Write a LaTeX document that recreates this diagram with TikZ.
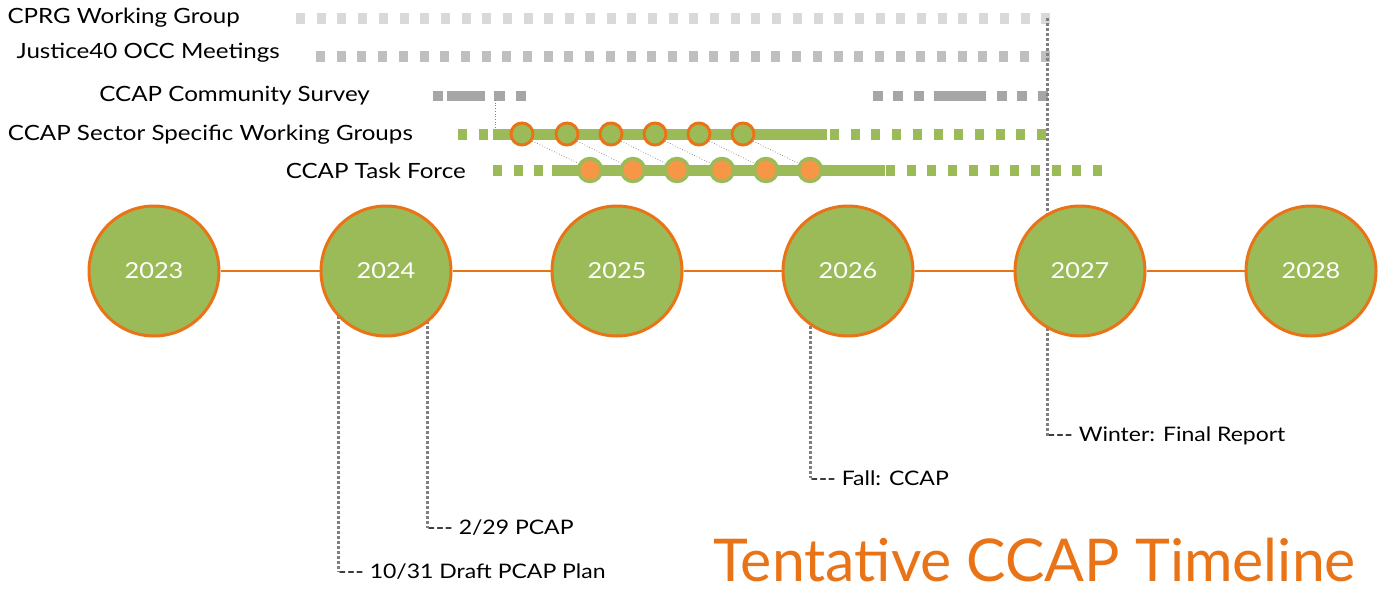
\documentclass[tikz,border=0pt]{standalone}
\usepackage{fontspec}
\setmainfont{Lato}[FakeStretch=1.15]
\newfontfamily\titlefont{Lato}
\definecolor{ccapgreen}{HTML}{9BBB59}
\definecolor{ccaporange}{HTML}{E97418}
\definecolor{ccaplight}{HTML}{F79646}
\definecolor{grayA}{HTML}{D9D9D9}
\definecolor{grayB}{HTML}{BFBFBF}
\definecolor{grayC}{HTML}{A6A6A6}
\definecolor{grayD}{HTML}{7F7F7F}
\begin{document}
\begin{tikzpicture}
[x=1pt,y=-1pt,%
  yearDecorate/.style={shape=circle,minimum size=130pt,inner sep=0pt,fill=ccapgreen,draw=ccaporange,line width=3pt,text=white,font=\fontsize{22}{26}\selectfont},%
  linkDecorate/.style={draw=ccaporange,line width=1.2pt},%
  barDecorate/.style={line width=11pt,dash pattern=on 9pt off 11.7pt},%
  solidDecorate/.style={line width=11pt,draw=ccapgreen},%
  groupDecorate/.style={shape=circle,minimum size=22pt,inner sep=0pt,fill=ccapgreen,draw=ccaporange,line width=3pt},%
  taskDecorate/.style={shape=circle,minimum size=23pt,inner sep=0pt,fill=ccaplight,draw=ccapgreen,line width=3.5pt},%
  thinDots/.style={draw=gray,line width=0.7pt,dotted},%
  milestoneDots/.style={draw=grayD,line width=3pt,dash pattern=on 3pt off 2pt},%
  rowLabel/.style={anchor=east,inner sep=0pt,font=\fontsize{21}{25}\selectfont},%
  noteLabel/.style={anchor=west,inner sep=0pt,font=\fontsize{20}{24}\selectfont}]
\useasboundingbox (0,0) rectangle (1385,589);
%% row labels
\foreach \labname/\x/\y/\txt in {
  cprg/240/18/CPRG Working Group, jus/280/53/Justice40 OCC Meetings,
  surv/370/96/CCAP Community Survey, sect/413/135/CCAP Sector Specific Working Groups,
  task/466/171/CCAP Task Force}
{
  \node (\labname) at (\x,\y) [rowLabel] {\txt};
}
%% dashed bars
\draw[barDecorate,draw=grayA] (296,18) -- (1052,18);
\draw[barDecorate,draw=grayB] (316,56) -- (1052,56);
\foreach \a/\b in {433/443, 447/485, 494/505, 516/526, 873/883, 893/903,
  914/924, 934/986, 997/1007, 1017/1027, 1038/1048}
{
  \draw[line width=10pt,draw=grayC] (\a,96) -- (\b,96);
}
\draw[barDecorate,draw=ccapgreen] (458,134) -- (490,134);
\draw[solidDecorate] (493,134) -- (827,134);
\draw[barDecorate,draw=ccapgreen] (830,134) -- (1048,134);
\draw[barDecorate,draw=ccapgreen] (493,170) -- (548,170);
\draw[solidDecorate] (552,170) -- (885,170);
\draw[barDecorate,draw=ccapgreen] (886,170) -- (1103,170);
%% survey link
\coordinate (survDrop) at (495,100);
\coordinate (sectHit) at (495,129);
\draw[thinDots] (survDrop) -- (sectHit);
%% meeting circles
\foreach \i/\sx/\tx in {1/522/590, 2/567/633, 3/611/677, 4/655/722, 5/699/766, 6/743/810}
{
  \node (s\i) at (\sx,134) [groupDecorate] {};
  \node (t\i) at (\tx,170) [taskDecorate] {};
  \draw[thinDots] (s\i.-35) -- (t\i.150);
}
%% milestones
\foreach \mname/\x/\y/\txt in {
  draft/338/572/{-{}-{}- 10/31 Draft PCAP Plan}, pcap/427/528/{-{}-{}- 2/29 PCAP},
  fall/810/478/{-{}-{}- Fall: CCAP}, winter/1047/436/{-{}-{}- Winter: Final Report}}
{
  \node (\mname) at (\x,\y) [noteLabel] {\txt};
}
\coordinate (draftTop) at (338,271);
\coordinate (pcapTop) at (427,271);
\coordinate (fallTop) at (810,271);
\coordinate (winterTop) at (1047,18);
\foreach \mname in {draft, pcap, fall, winter}
{
  \draw[milestoneDots] (\mname Top) -- (\mname.west);
}
%% years
\foreach \yr/\x in {2023/154, 2024/386, 2025/617, 2026/848, 2027/1080, 2028/1311}
{
  \node (y\yr) at (\x,271) [yearDecorate] {\yr};
}
\path
\foreach \startnode/\endnode in {2023/2024, 2024/2025, 2025/2026, 2026/2027, 2027/2028}
{
  (y\startnode) edge[linkDecorate] (y\endnode)
};
%% title
\node (title) at (713,581) [anchor=base west,inner sep=0pt,text depth=0pt,text=ccaporange,font=\titlefont\fontsize{59}{64}\selectfont] {Tentative CCAP Timeline};
\end{tikzpicture}
\end{document}
